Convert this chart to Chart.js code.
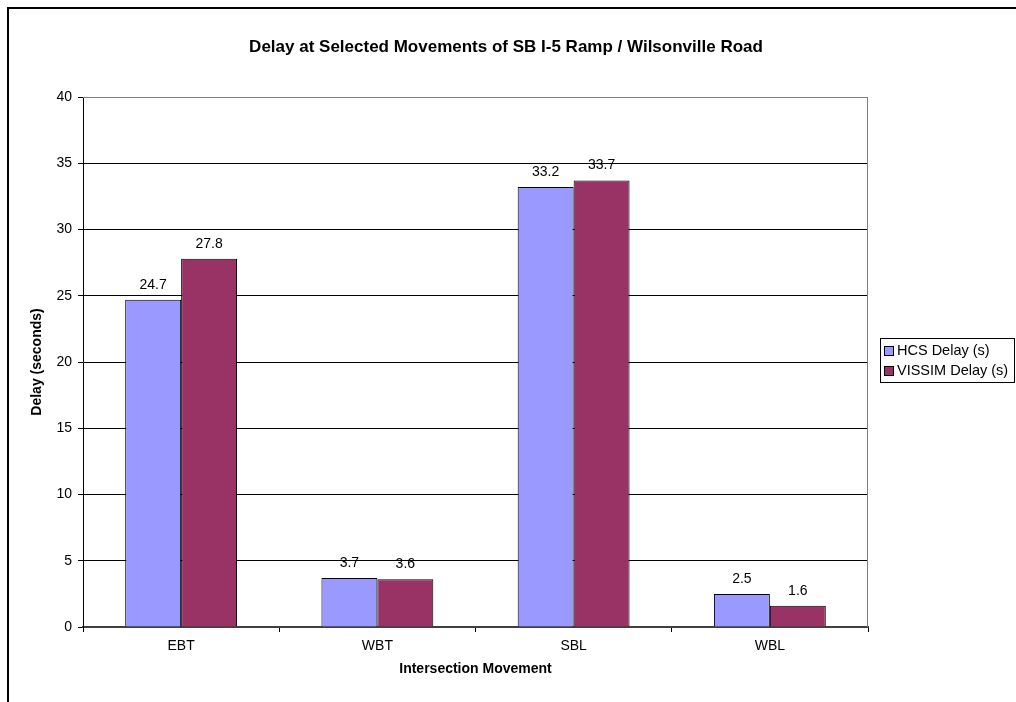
<!DOCTYPE html>
<html>
<head>
<meta charset="utf-8">
<title>Delay at Selected Movements</title>
<script src="https://cdn.jsdelivr.net/npm/chart.js@4/dist/chart.umd.min.js"></script>
<style>
  html, body { margin: 0; padding: 0; background: #fff; }
  #wrap { width: 1016px; height: 702px; }
</style>
</head>
<body>
<div id="wrap"><canvas id="delay-chart" width="1016" height="702"></canvas></div>
<script>
// chart data
const movements = ['EBT', 'WBT', 'SBL', 'WBL'];
const hcsDelay = [24.7, 3.7, 33.2, 2.5];
const vissimDelay = [27.8, 3.6, 33.7, 1.6];
const seriesNames = ['HCS Delay (s)', 'VISSIM Delay (s)'];
const seriesColors = ['#9999FF', '#993366'];
const yTicks = [0, 5, 10, 15, 20, 25, 30, 35, 40];

const FONT = "'Liberation Sans', Arial, sans-serif";

// frame, plot border, titles, value labels, legend
const decorations = {
    id: 'decorations',
    beforeDatasetsDraw(chart) {
        const { ctx, chartArea: a } = chart;
        ctx.save();
        ctx.strokeStyle = '#808080';
        ctx.lineWidth = 1;
        ctx.beginPath();
        ctx.moveTo(a.left, a.top + 0.5);
        ctx.lineTo(a.right - 0.5, a.top + 0.5);
        ctx.lineTo(a.right - 0.5, a.bottom);
        ctx.stroke();
        ctx.restore();
    },
    afterDraw(chart) {
        const { ctx, chartArea: a } = chart;
        ctx.save();

        // outer frame
        ctx.strokeStyle = '#000';
        ctx.lineWidth = 2;
        ctx.strokeRect(8, 8, 1100, 800);

        // titles
        ctx.fillStyle = '#000';
        ctx.textAlign = 'center';
        ctx.textBaseline = 'middle';
        ctx.font = 'bold 17px ' + FONT;
        ctx.fillText('Delay at Selected Movements of SB I-5 Ramp / Wilsonville Road', 506, 47);
        ctx.font = 'bold 14px ' + FONT;
        ctx.fillText('Intersection Movement', (a.left + a.right) / 2, 669);
        ctx.save();
        ctx.translate(37, (a.top + a.bottom) / 2);
        ctx.rotate(-Math.PI / 2);
        ctx.fillText('Delay (seconds)', 0, 0);
        ctx.restore();

        // value labels
        ctx.font = '14px ' + FONT;
        ctx.textBaseline = 'alphabetic';
        chart.data.datasets.forEach((ds, i) => {
            chart.getDatasetMeta(i).data.forEach((bar, j) => {
                ctx.fillText(ds.data[j].toFixed(1), bar.x, bar.y - 11);
            });
        });

        // legend
        ctx.lineWidth = 1;
        ctx.strokeStyle = '#000';
        ctx.strokeRect(880.5, 338.5, 134, 44);
        ctx.textAlign = 'left';
        ctx.textBaseline = 'middle';
        ctx.font = '14.5px ' + FONT;
        chart.data.datasets.forEach((ds, i) => {
            const y = 350 + i * 20;
            ctx.fillStyle = ds.backgroundColor;
            ctx.fillRect(884, y - 4, 9, 9);
            ctx.strokeRect(884.5, y - 3.5, 9, 9);
            ctx.fillStyle = '#000';
            ctx.fillText(ds.label, 897, y + 1);
        });
        ctx.restore();
    }
};

new Chart(document.getElementById('delay-chart'), {
    type: 'bar',
    data: {
        labels: movements,
        datasets: [
            { label: seriesNames[0], data: hcsDelay, backgroundColor: seriesColors[0], borderColor: '#000', borderWidth: 1 },
            { label: seriesNames[1], data: vissimDelay, backgroundColor: seriesColors[1], borderColor: '#000', borderWidth: 1 }
        ]
    },
    options: {
        responsive: false,
        animation: false,
        layout: { padding: { left: 8, top: 97, right: 148, bottom: 0 } },
        datasets: { bar: { categoryPercentage: 0.57, barPercentage: 1 } },
        plugins: {
            legend: { display: false },
            title: { display: false },
            tooltip: { enabled: false }
        },
        scales: {
            x: {
                offset: true,
                grid: { offset: true, drawOnChartArea: false, drawTicks: true, tickLength: 5, color: '#000' },
                border: { color: '#404040', width: 2 },
                ticks: { color: '#000', font: { family: FONT, size: 14 }, padding: 6 },
                afterFit: s => { s.height = 75; }
            },
            y: {
                min: 0,
                max: 40,
                afterBuildTicks: s => { s.ticks = yTicks.map(v => ({ value: v })); },
                grid: {
                    color: c => (c.tick && c.tick.value === 40) ? '#808080' : '#000',
                    tickColor: '#000',
                    tickLength: 5
                },
                border: { color: '#000', width: 1 },
                ticks: { color: '#000', font: { family: FONT, size: 14 }, padding: 6 },
                afterFit: s => { s.width = 75; }
            }
        }
    },
    plugins: [decorations]
});
</script>
</body>
</html>
